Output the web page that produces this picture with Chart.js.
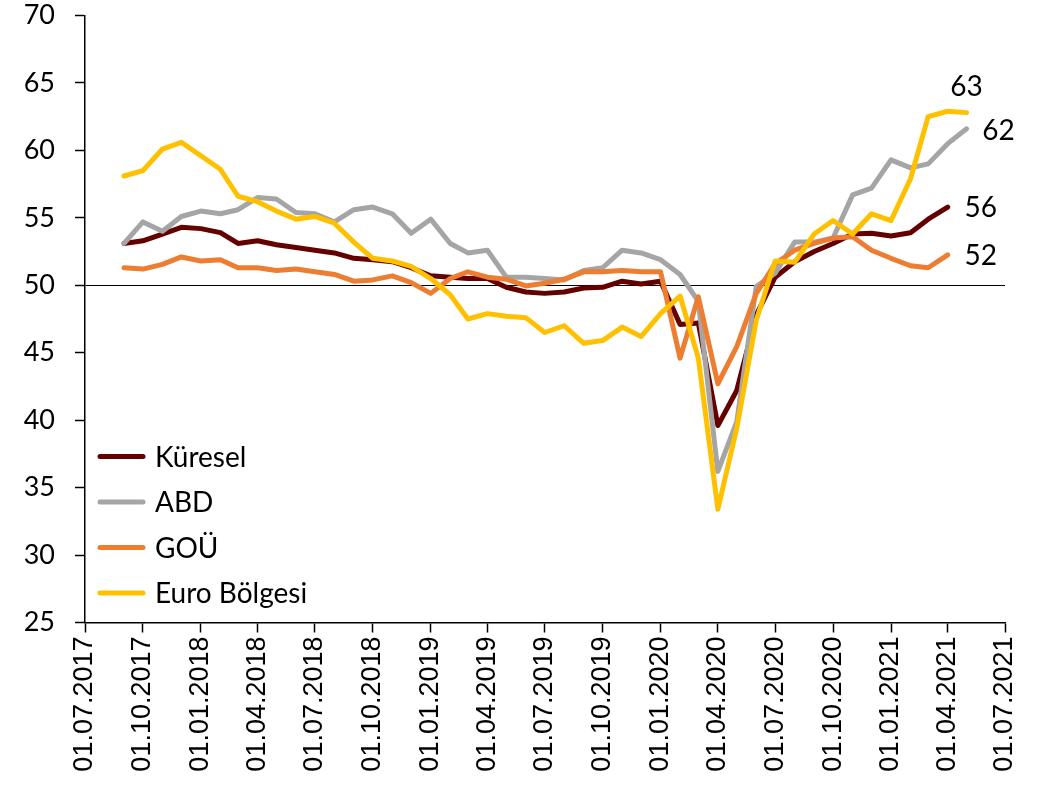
<!DOCTYPE html>
<html>
<head>
<meta charset="utf-8">
<script src="https://cdn.jsdelivr.net/npm/chart.js@4.4.1/dist/chart.umd.min.js"></script>
<style>
  html, body { margin: 0; padding: 0; background: #fff; }
  #wrap { width: 1051px; height: 795px; position: relative; }
</style>
</head>
<body>
<div id="wrap"><canvas id="c" width="1051" height="795"></canvas></div>
<script>
// ---- Data (monthly, first of month) ----
const months = [
  '2017-09','2017-10','2017-11','2017-12',
  '2018-01','2018-02','2018-03','2018-04','2018-05','2018-06','2018-07','2018-08','2018-09','2018-10','2018-11','2018-12',
  '2019-01','2019-02','2019-03','2019-04','2019-05','2019-06','2019-07','2019-08','2019-09','2019-10','2019-11','2019-12',
  '2020-01','2020-02','2020-03','2020-04','2020-05','2020-06','2020-07','2020-08','2020-09','2020-10','2020-11','2020-12',
  '2021-01','2021-02','2021-03','2021-04','2021-05'
];

const kuresel = [53.1,53.3,53.8,54.3, 54.2,53.9,53.1,53.3,53.0,52.8,52.6,52.4,52.0,51.9,51.75,51.3,
  50.7,50.6,50.5,50.5,49.85,49.5,49.4,49.5,49.8,49.85,50.3,50.1,
  50.3,47.1,47.2,39.6,42.2,47.8,50.6,51.75,52.5,53.1,53.8,53.85,
  53.65,53.9,54.9,55.8];

const abd = [53.1,54.7,54.0,55.1, 55.5,55.3,55.6,56.5,56.4,55.4,55.3,54.7,55.6,55.8,55.3,53.85,
  54.9,53.1,52.4,52.6,50.6,50.6,50.5,50.4,51.1,51.3,52.6,52.4,
  51.9,50.8,48.8,36.2,39.9,49.9,50.9,53.2,53.2,53.5,56.7,57.2,
  59.3,58.7,59.0,60.5,61.6];

const gou = [51.3,51.2,51.55,52.1, 51.8,51.9,51.3,51.3,51.1,51.2,51.0,50.8,50.3,50.4,50.7,50.2,
  49.4,50.5,51.0,50.6,50.45,49.95,50.15,50.45,51.0,51.0,51.1,51.0,
  51.0,44.6,49.15,42.7,45.45,49.4,51.6,52.6,53.1,53.5,53.6,52.6,
  52.0,51.45,51.3,52.25];

const euro = [58.1,58.5,60.1,60.6, 59.6,58.6,56.6,56.2,55.5,54.9,55.1,54.6,53.2,52.0,51.8,51.4,
  50.5,49.3,47.5,47.9,47.7,47.6,46.5,47.0,45.7,45.9,46.9,46.2,
  47.9,49.2,44.6,33.4,39.4,47.4,51.8,51.7,53.8,54.8,53.8,55.3,
  54.8,57.9,62.5,62.9,62.8];

const seriesNames = ['Küresel','ABD','GOÜ','Euro Bölgesi'];
const seriesColors = ['#640000','#A5A5A5','#ED7D31','#FFC000'];

const xTickLabels = ['01.07.2017','01.10.2017','01.01.2018','01.04.2018','01.07.2018','01.10.2018',
  '01.01.2019','01.04.2019','01.07.2019','01.10.2019','01.01.2020','01.04.2020','01.07.2020',
  '01.10.2020','01.01.2021','01.04.2021','01.07.2021'];

const yTicks = { min: 25, max: 70, step: 5 };

// ---- helpers ----
function dayFromYM(s) { const [y,m] = s.split('-').map(Number); return Date.UTC(y, m-1, 1) / 86400000; }
function dayFromLabel(l) { const [d,m,y] = l.split('.').map(Number); return Date.UTC(y, m-1, d) / 86400000; }
const xTickValues = xTickLabels.map(dayFromLabel);

function toPoints(vals) { return vals.map((v, i) => ({ x: dayFromYM(months[i]), y: v })); }

const endLabelOffsets = [ {dx: 33, dy: 1}, {dx: 32, dy: 2}, {dx: 33, dy: 1}, {dx: 0, dy: -26} ];
const allSeries = [kuresel, abd, gou, euro];

const datasets = allSeries.map((vals, i) => ({
  label: seriesNames[i],
  data: toPoints(vals),
  borderColor: seriesColors[i],
  backgroundColor: seriesColors[i],
  borderWidth: 5,
  pointRadius: 0,
  pointHoverRadius: 0,
  tension: 0,
  fill: false,
  borderJoinStyle: 'round',
  borderCapStyle: 'round',
  order: 4 - i,
  endLabel: endLabelOffsets[i]
}));

const labelFont = '28px Lato';

const endLabelsPlugin = {
  id: 'endLabels',
  afterDatasetsDraw(chart) {
    const ctx = chart.ctx;
    ctx.save();
    ctx.font = labelFont;
    ctx.fillStyle = '#000';
    ctx.textAlign = 'center';
    ctx.textBaseline = 'middle';
    chart.data.datasets.forEach((ds, i) => {
      const meta = chart.getDatasetMeta(i);
      const last = meta.data[meta.data.length - 1];
      const v = ds.data[ds.data.length - 1].y;
      const off = ds.endLabel;
      ctx.fillText(String(Math.round(v)), last.x + off.dx, last.y + off.dy);
    });
    ctx.restore();
  }
};

const legendPlugin = {
  id: 'customLegend',
  afterDraw(chart) {
    const ctx = chart.ctx;
    const a = chart.chartArea;
    ctx.save();
    ctx.font = labelFont;
    ctx.textAlign = 'left';
    ctx.textBaseline = 'middle';
    const x0 = a.left + 15, x1 = a.left + 58, tx = a.left + 70;
    const y0 = a.top + 441, dy = 45.5;
    chart.data.datasets.forEach((ds, i) => {
      const y = y0 + i * dy;
      ctx.strokeStyle = ds.borderColor;
      ctx.lineWidth = 5;
      ctx.lineCap = 'round';
      ctx.beginPath(); ctx.moveTo(x0, y); ctx.lineTo(x1, y); ctx.stroke();
      ctx.fillStyle = '#000';
      ctx.fillText(ds.label, tx, y + 1);
    });
    ctx.restore();
  }
};

new Chart(document.getElementById('c'), {
  type: 'line',
  data: { datasets },
  options: {
    responsive: false,
    animation: false,
    devicePixelRatio: 1,
    layout: { padding: { top: 15.5, right: 46, left: 0, bottom: 0 } },
    plugins: { legend: { display: false }, tooltip: { enabled: false } },
    scales: {
      x: {
        type: 'linear',
        min: xTickValues[0],
        max: xTickValues[xTickValues.length - 1],
        afterBuildTicks(scale) { scale.ticks = xTickValues.map(v => ({ value: v })); },
        afterFit(scale) { scale.height = 172.5; scale.paddingLeft = 0; scale.paddingRight = 0; },
        ticks: {
          autoSkip: false,
          maxRotation: 90,
          minRotation: 90,
          padding: 4,
          color: '#000',
          font: { family: 'Liberation Sans', size: 27 },
          callback(value, index) { return xTickLabels[index]; }
        },
        grid: {
          display: true,
          drawOnChartArea: false,
          drawTicks: true,
          tickLength: 10,
          tickColor: '#000',
          tickWidth: 1.5
        },
        border: { display: true, color: '#000', width: 1.5 }
      },
      y: {
        min: yTicks.min,
        max: yTicks.max,
        afterFit(scale) { scale.width = 85; scale.paddingTop = 0; scale.paddingBottom = 0; },
        ticks: {
          stepSize: yTicks.step,
          padding: 20,
          color: '#000',
          font: { family: 'Lato', size: 27 }
        },
        grid: {
          display: true,
          drawOnChartArea: true,
          drawTicks: true,
          tickLength: 10,
          tickColor: '#000',
          tickWidth: 1.5,
          lineWidth: 1,
          color(ctx) { return ctx.tick && ctx.tick.value === 50 ? '#000' : 'rgba(0,0,0,0)'; }
        },
        border: { display: true, color: '#000', width: 1.5 }
      }
    }
  },
  plugins: [endLabelsPlugin, legendPlugin]
});
</script>
</body>
</html>
